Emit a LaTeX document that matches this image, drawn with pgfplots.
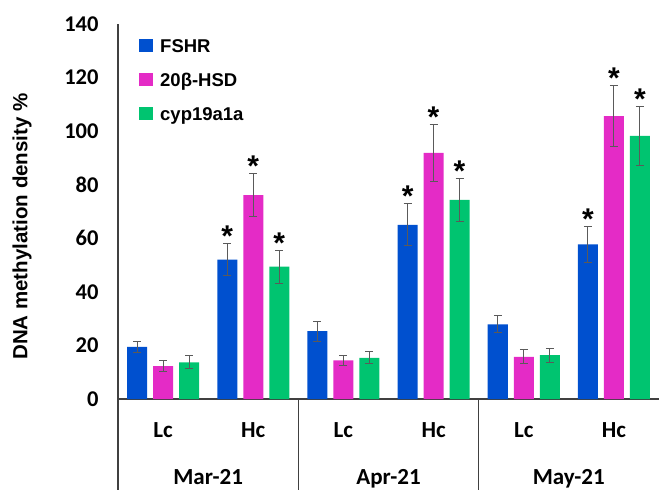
\documentclass[border=0pt]{standalone}
\usepackage{fontspec}
\setmainfont{Carlito}
\newfontfamily\arialb{Liberation Sans}[BoldFont={* Bold}]
\usepackage{pgfplots}
\pgfplotsset{compat=1.18}

\definecolor{cFSHR}{HTML}{0050CF}
\definecolor{cHSD}{HTML}{E42BC6}
\definecolor{cCYP}{HTML}{00C470}
\definecolor{axisgray}{HTML}{404040}
\definecolor{errgray}{HTML}{5A5A5A}

\begin{document}
\begin{tikzpicture}[x=1pt,y=1pt]
\useasboundingbox (0,0) rectangle (659,490);
% y label
\node[rotate=90, font=\arialb\bfseries\fontsize{20.5}{24}\selectfont] at (22,263.5) {DNA methylation density \%};
\begin{axis}[
  at={(118pt,91pt)}, anchor=south west,
  scale only axis, width=541pt, height=375pt,
  xmin=-0.5, xmax=5.5, ymin=0, ymax=140,
  axis x line=bottom, axis y line=left,
  axis line style={-, draw=axisgray, line width=1.2pt},
  major tick length=0pt,
  ytick={0,20,...,140},
  /pgf/number format/assume math mode=true,
  yticklabel style={font=\bfseries\fontsize{22.5}{26}\selectfont, xshift=-16pt},
  xtick={0,...,5},
  xticklabels={Lc,Hc,Lc,Hc,Lc,Hc},
  xticklabel style={font=\bfseries\fontsize{23}{27}\selectfont, anchor=base, yshift=-38pt},
  clip=false,
  error bars/y dir=both, error bars/y explicit,
  error bars/error mark options={errgray, rotate=90, mark size=4pt, line width=1pt},
  legend style={draw=none, fill=none, inner sep=0pt,
    at={(axis description cs:0,1)}, anchor=north west, xshift=21pt, yshift=-14.6pt,
    font=\arialb\bfseries\fontsize{18.5}{22}\selectfont,
    nodes={text height=14pt, text depth=4pt, inner sep=0pt},
    row sep=16pt, column sep=7pt},
  legend cell align=left,
  legend image code/.code={\fill[#1] (0pt,-4.5pt) rectangle (14pt,8.5pt);},
]
% FSHR
\addplot[ybar, bar width=20pt, bar shift=-26pt, fill=cFSHR, draw=none,
  error bars/error bar style={errgray, line width=1pt, xshift=-26pt}]
  coordinates {(0,19.5) +- (0,2.1) (1,52.0) +- (0,6.0) (2,25.3) +- (0,3.8)
               (3,65.0) +- (0,7.8) (4,27.9) +- (0,3.2) (5,57.7) +- (0,6.6)};
\addlegendentry{FSHR}
% 20beta-HSD
\addplot[ybar, bar width=20pt, bar shift=0pt, fill=cHSD, draw=none,
  error bars/error bar style={errgray, line width=1pt}]
  coordinates {(0,12.3) +- (0,2.0) (1,76.1) +- (0,8.0) (2,14.4) +- (0,2.0)
               (3,91.9) +- (0,10.6) (4,15.7) +- (0,2.6) (5,105.6) +- (0,11.5)};
\addlegendentry{20β-HSD}
% cyp19a1a
\addplot[ybar, bar width=20pt, bar shift=26pt, fill=cCYP, draw=none,
  error bars/error bar style={errgray, line width=1pt, xshift=26pt}]
  coordinates {(0,13.7) +- (0,2.5) (1,49.4) +- (0,6.2) (2,15.4) +- (0,2.3)
               (3,74.3) +- (0,8.1) (4,16.4) +- (0,2.6) (5,98.2) +- (0,10.9)};
\addlegendentry{cyp19a1a}
% significance marks above the Hc error bars
\addplot[draw=none, mark=none, forget plot,
  nodes near coords={*},
  every node near coord/.append style={anchor=base, yshift=-3pt, inner sep=0pt,
    font=\arialb\bfseries\fontsize{30}{30}\selectfont}]
  coordinates {(0.7117,58.0) (1,84.1) (1.2883,55.6)
               (2.7117,72.8) (3,102.5) (3.2883,82.4)
               (4.7117,64.3) (5,117.1) (5.2883,109.1)};
% group separators and month labels
\draw[axisgray, line width=1.2pt] (axis cs:-0.5,0) -- ([yshift=-91pt]axis cs:-0.5,0);
\draw[axisgray, line width=1.2pt] (axis cs:1.5,0) -- ([yshift=-91pt]axis cs:1.5,0);
\draw[axisgray, line width=1.2pt] (axis cs:3.5,0) -- ([yshift=-91pt]axis cs:3.5,0);
\node[anchor=base, font=\bfseries\fontsize{23}{27}\selectfont] at (axis cs:0.5,0) [yshift=-85pt] {Mar-21};
\node[anchor=base, font=\bfseries\fontsize{23}{27}\selectfont] at (axis cs:2.5,0) [yshift=-85pt] {Apr-21};
\node[anchor=base, font=\bfseries\fontsize{23}{27}\selectfont] at (axis cs:4.5,0) [yshift=-85pt] {May-21};
\end{axis}
\end{tikzpicture}
\end{document}
